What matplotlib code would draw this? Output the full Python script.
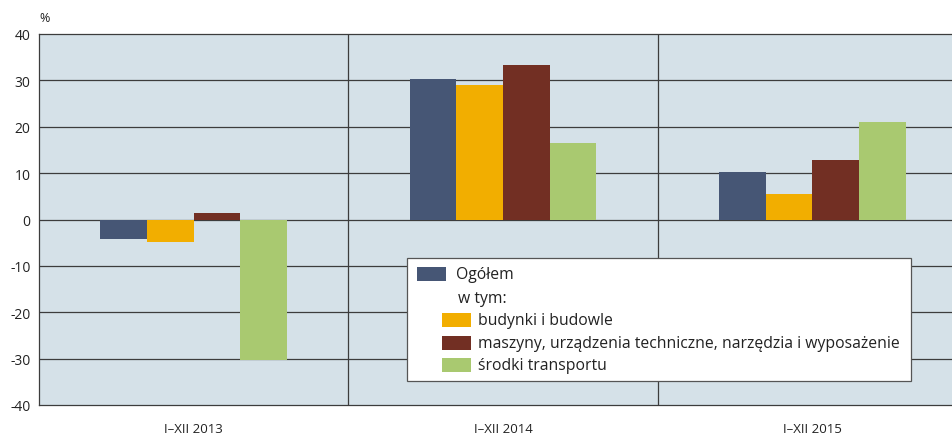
import numpy as np
import matplotlib.pyplot as plt
from matplotlib.patches import Rectangle

plt.rcParams['font.family'] = ['Open Sans', 'DejaVu Sans']

periods = ['I\u2013XII 2013', 'I\u2013XII 2014', 'I\u2013XII 2015']
series = ['Ogółem', 'budynki i budowle',
          'maszyny, urządzenia techniczne, narzędzia i wyposażenie',
          'środki transportu']
ogolem = [-4.3, 30.3, 10.3]
budynki = [-4.9, 28.9, 5.4]
maszyny = [1.3, 33.4, 12.9]
transport = [-30.4, 16.4, 21.1]
colors = ['#465675', '#f2ae00', '#722f23', '#a9c970']

W, H = 953, 439
fig = plt.figure(figsize=(W / 100, H / 100), dpi=100)
# plot area runs past the right edge of the picture, like the original
ax = fig.add_axes([39 / W, 33 / H, 928 / W, 371 / H])
ax.set_facecolor('#d5e1e8')

x = np.arange(len(periods))
w = 0.151
for i, vals in enumerate([ogolem, budynki, maszyny, transport]):
    ax.bar(x + (i - 1.5) * w, vals, w, color=colors[i], zorder=3)

ax.set_xlim(-0.5, 2.5)
ax.set_ylim(-40, 40)
ax.set_yticks(range(-40, 41, 10))
ax.set_yticklabels([str(v) for v in range(-40, 41, 10)], fontsize=10, color='#222222')
for v in range(-30, 40, 10):
    ax.axhline(v, color='#3c3c3c', lw=0.9, zorder=2)
for b in [0.5, 1.5]:
    ax.axvline(b, color='#3c3c3c', lw=0.9, zorder=2)
ax.set_xticks(x)
ax.set_xticklabels(periods, fontsize=9.5, color='#222222')
ax.tick_params(axis='both', length=0)
ax.tick_params(axis='x', pad=12)
ax.tick_params(axis='y', pad=6)
for s in ax.spines.values():
    s.set_color('#3c3c3c')
    s.set_linewidth(0.9)

fig.text(39 / W, 1 - 18 / H, '%', fontsize=9, color='#222222', va='center')

# legend drawn by hand (indented sub-items and "w tym:" line)
def px(xp, yp):
    return xp / W, 1 - yp / H

lx, ly = px(407, 382)
fig.patches.append(Rectangle((lx, ly), 504 / W, 123 / H, transform=fig.transFigure,
                             facecolor='white', edgecolor='#555555', lw=0.9, zorder=5))
items = [(417, 275, 456, series[0], colors[0]),
         (442, 321, 478, series[1], colors[1]),
         (442, 344, 478, series[2], colors[2]),
         (442, 366, 478, series[3], colors[3])]
for hx, hy, tx, label, c in items:
    rx, ry = px(hx, hy + 7)
    fig.patches.append(Rectangle((rx, ry), 29 / W, 14 / H, transform=fig.transFigure,
                                 facecolor=c, edgecolor='none', zorder=6))
    fig.text(*px(tx, hy), label, fontsize=11.3, color='#222222', va='center', zorder=7)
fig.text(*px(458, 299), 'w tym:', fontsize=11.3, color='#222222', va='center', zorder=7)

fig.savefig('out.png', dpi=100)
